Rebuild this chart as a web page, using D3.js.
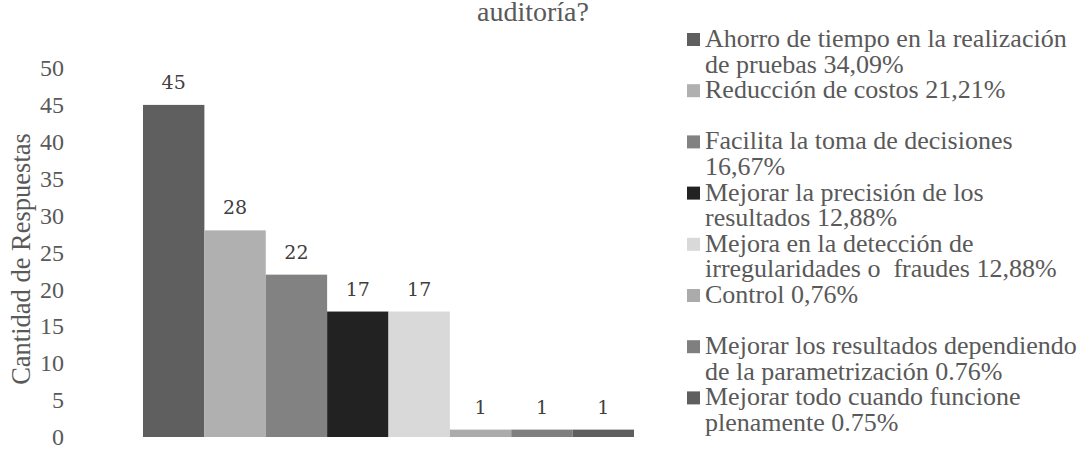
<!DOCTYPE html>
<html lang="es">
    <head>
        <meta charset="utf-8">
        <title>Beneficios auditoría</title>
        <script type="text/javascript" src="https://cdnjs.cloudflare.com/ajax/libs/d3/7.8.5/d3.min.js"></script>
        <style>
            body { margin: 0; background: #fff; }
            text { font-family: "Liberation Serif", "Times New Roman", serif; fill: #595959; }
            .vlabel { font-family: "DejaVu Serif", serif; fill: #404040; }
        </style>
    </head>
    <body>
        <script type="text/javascript">

            // legend text, one entry per bar, split into its lines
            var categories = [
                ["Ahorro de tiempo en la realización", "de pruebas 34,09%"],
                ["Reducción de costos 21,21%"],
                ["Facilita la toma de decisiones", "16,67%"],
                ["Mejorar la precisión de los", "resultados 12,88%"],
                ["Mejora en la detección de", "irregularidades o  fraudes 12,88%"],
                ["Control 0,76%"],
                ["Mejorar los resultados dependiendo", "de la parametrización 0.76%"],
                ["Mejorar todo cuando funcione", "plenamente 0.75%"]
            ];
            var values = [45, 28, 22, 17, 17, 1, 1, 1];
            var colors = ["#5f5f5f", "#b0b0b0", "#828282", "#222222", "#d9d9d9", "#ababab", "#7f7f7f", "#5f5f5f"];
            var yTicks = [0, 5, 10, 15, 20, 25, 30, 35, 40, 45, 50];

            var w = 1090;
            var h = 470;

            var svg = d3.select("body")
                .append("svg")
                .attr("width", w)
                .attr("height", h);

            var xScale = d3.scaleBand()
                .domain(d3.range(values.length))
                .range([143, 634])
                .padding(0);

            var yScale = d3.scaleLinear()
                .domain([0, 50])
                .range([437, 68]);

            // title (second line only, first is off the top)
            svg.append("text")
                .attr("x", 533)
                .attr("y", 21)
                .attr("text-anchor", "middle")
                .style("font-size", "28px")
                .text("auditoría?");

            svg.selectAll("rect.bar")
                .data(values)
                .enter()
                .append("rect")
                .attr("class", "bar")
                .attr("x", function(d, i){ return xScale(i); })
                .attr("y", function(d){ return yScale(d); })
                .attr("width", xScale.bandwidth())
                .attr("height", function(d){ return yScale(0) - yScale(d); })
                .attr("fill", function(d, i){ return colors[i]; });

            svg.selectAll("text.vlabel")
                .data(values)
                .enter()
                .append("text")
                .attr("class", "vlabel")
                .attr("x", function(d, i){ return xScale(i) + xScale.bandwidth()/2; })
                .attr("y", function(d){ return yScale(d) - 16; })
                .attr("text-anchor", "middle")
                .style("font-size", "19px")
                .text(function(d){ return d; });

            var yAxis = d3.axisLeft(yScale)
                .tickValues(yTicks)
                .tickSize(0)
                .tickPadding(79);

            var yg = svg.append("g")
                .attr("transform", "translate(143,0)")
                .call(yAxis);
            yg.select(".domain").remove();
            yg.selectAll("text")
                .attr("fill", "#595959")
                .style("font-family", "'Liberation Serif', serif")
                .style("font-size", "24px");

            svg.append("text")
                .attr("transform", "translate(30,259) rotate(-90)")
                .attr("text-anchor", "middle")
                .style("font-size", "26.5px")
                .text("Cantidad de Respuestas");

            // legend
            var lg = svg.selectAll("g.legend")
                .data(categories)
                .enter()
                .append("g")
                .attr("class", "legend")
                .attr("transform", function(d, i){ return "translate(687," + (47 + i*51.2) + ")"; });

            lg.append("rect")
                .attr("x", 0)
                .attr("y", -14)
                .attr("width", 13)
                .attr("height", 13)
                .attr("fill", function(d, i){ return colors[i]; });

            lg.each(function(d){
                var t = d3.select(this).append("text")
                    .attr("x", 18)
                    .attr("y", 0)
                    .style("font-size", "26px")
                    .style("white-space", "pre");
                d.forEach(function(line, j){
                    t.append("tspan")
                        .attr("x", 18)
                        .attr("dy", j == 0 ? 0 : 25.6)
                        .text(line);
                });
            });

        </script>
    </body>
</html>
